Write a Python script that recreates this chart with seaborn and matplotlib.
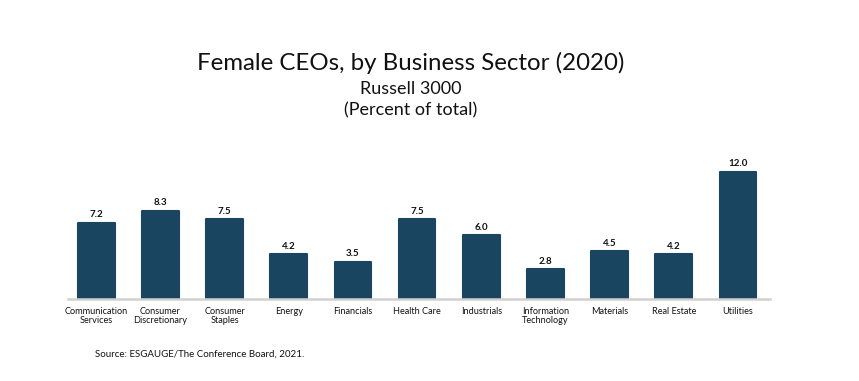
import matplotlib
matplotlib.use("Agg")
import matplotlib.pyplot as plt
import seaborn as sns
import pandas as pd

sectors = ["Communication\nServices", "Consumer\nDiscretionary", "Consumer\nStaples", "Energy",
           "Financials", "Health Care", "Industrials", "Information\nTechnology", "Materials",
           "Real Estate", "Utilities"]
values = [7.2, 8.3, 7.5, 4.2, 3.5, 7.5, 6.0, 2.8, 4.5, 4.2, 12.0]

df = pd.DataFrame({"sector": sectors, "value": values})

sns.set_theme(style="white")
plt.rcParams["font.family"] = ["Lato", "DejaVu Sans"]

fig = plt.figure(figsize=(8.59, 3.81), dpi=100)
ax = fig.add_axes([68/859, 1 - 299/381, (770-68)/859, (299-158)/381])

color = "#1a4560"
sns.barplot(data=df, x="sector", y="value", color=color, width=0.57, ax=ax,
            edgecolor=color, linewidth=1.5, saturation=1)
for p in ax.patches:
    p.set_joinstyle("round")

for i, v in enumerate(values):
    ax.text(i, v + 0.35, f"{v:.1f}", ha="center", va="bottom", fontsize=7,
            fontweight="bold", color="#111111")

ax.set_xlim(-0.44, 10.5)
ax.set_ylim(0, 13.3)
ax.set_xlabel("")
ax.set_ylabel("")
ax.set_yticks([])
for s in ["top", "right", "left"]:
    ax.spines[s].set_visible(False)
ax.spines["bottom"].set_color("#d0d0d0")
ax.spines["bottom"].set_linewidth(1.8)
ax.tick_params(axis="x", length=0, pad=6, labelsize=6.6, labelcolor="#111111")
for lbl in ax.get_xticklabels():
    lbl.set_linespacing(0.95)

cx = 411/859
fig.text(cx, 1 - 63/381, "Female CEOs, by Business Sector (2020)", ha="center", va="center",
         fontsize=17.3, color="#111111")
fig.text(cx, 1 - 89/381, "Russell 3000", ha="center", va="center", fontsize=13, color="#111111")
fig.text(cx, 1 - 110/381, "(Percent of total)", ha="center", va="center", fontsize=13, color="#111111")
fig.text(95/859, 1 - 354/381, "Source: ESGAUGE/The Conference Board, 2021.", ha="left", va="center",
         fontsize=7, color="#111111")

fig.savefig("out.png", dpi=100, facecolor="white")
